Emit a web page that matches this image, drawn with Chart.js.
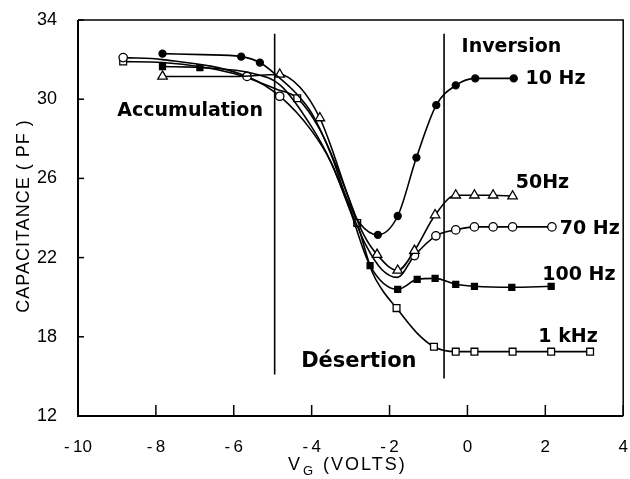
<!DOCTYPE html>
<html>
<head>
<meta charset="utf-8">
<script src="https://cdn.jsdelivr.net/npm/chart.js@4/dist/chart.umd.min.js"></script>
<style>
  html, body { margin: 0; padding: 0; background: #fff; }
  canvas { display: block; }
</style>
</head>
<body>
<canvas id="cv" width="630" height="479"></canvas>
<script>
// axis ticks
const xTicks = [-10, -8, -6, -4, -2, 0, 2, 4];
const yTicks = [14, 18, 22, 26, 30, 34];
const yTickLabels = ["12", "18", "22", "26", "30", "34"];

// 10 Hz (filled circles)
const v10 = [-7.83, -6.8, -5.81, -5.33, -4.9, -4.4, -4.0, -3.5, -3.1, -2.75, -2.3, -1.79, -1.31, -0.8, -0.3, 0.2, 1.19];
const c10 = [32.3, 32.25, 32.15, 31.85, 31.2, 30.3, 29.3, 27.2, 25.0, 23.7, 23.15, 24.1, 27.05, 29.7, 30.7, 31.05, 31.05];
const m10 = [1, 0, 1, 1, 0, 0, 0, 0, 0, 0, 1, 1, 1, 1, 1, 1, 1];

// 50 Hz (open triangles)
const v50 = [-7.83, -6.0, -4.82, -4.3, -3.79, -3.5, -3.1, -2.7, -2.32, -1.79, -1.36, -0.83, -0.3, 0.18, 0.66, 1.16];
const c50 = [31.15, 31.15, 31.25, 30.6, 29.05, 27.6, 25.3, 23.3, 22.15, 21.35, 22.35, 24.15, 25.15, 25.15, 25.15, 25.1];
const m50 = [1, 0, 1, 0, 1, 0, 0, 0, 1, 1, 1, 1, 1, 1, 1, 1];

// 70 Hz (open circles)
const v70 = [-8.84, -7.83, -5.66, -4.82, -4.0, -3.5, -3.0, -2.6, -2.2, -1.8, -1.36, -0.81, -0.3, 0.18, 0.66, 1.16, 2.17];
const c70 = [32.1, 32.0, 31.15, 30.15, 28.4, 26.8, 24.4, 22.6, 21.4, 21.0, 22.1, 23.1, 23.4, 23.55, 23.55, 23.55, 23.55];
const m70 = [1, 0, 1, 1, 0, 0, 0, 0, 0, 0, 1, 1, 1, 1, 1, 1, 1];

// 100 Hz (filled squares)
const v100 = [-7.83, -6.87, -5.5, -4.8, -4.0, -3.5, -3.0, -2.5, -1.79, -1.29, -0.83, -0.3, 0.18, 1.14, 2.15];
const c100 = [31.65, 31.6, 31.3, 30.7, 28.6, 26.8, 24.3, 21.6, 20.4, 20.9, 20.95, 20.65, 20.55, 20.5, 20.55];
const m100 = [1, 1, 0, 0, 0, 0, 0, 1, 1, 1, 1, 1, 1, 1, 1];

// 1 kHz (open squares)
const v1k = [-8.84, -7.83, -6.0, -4.9, -4.37, -3.8, -3.3, -2.83, -2.45, -2.2, -1.82, -1.3, -0.86, -0.3, 0.18, 1.16, 2.15, 3.15];
const c1k = [31.9, 31.85, 31.3, 30.5, 30.05, 28.5, 26.3, 23.75, 21.3, 20.4, 19.45, 18.2, 17.5, 17.25, 17.25, 17.25, 17.25, 17.25];
const m1k = [1, 0, 0, 0, 1, 0, 0, 1, 0, 0, 1, 0, 1, 1, 1, 1, 1, 1];

// region boundaries
const regionX = [-4.95, -0.6];
const regionTop = [33.3, 33.3];
const regionBottom = [16.1, 15.9];

// annotations (left edge, middle of text)
const notes = [
  { text: "Accumulation", x: -8.99, y: 29.4, size: 19 },
  { text: "Inversion", x: -0.15, y: 32.65, size: 19 },
  { text: "10 Hz", x: 1.49, y: 31.0, size: 19 },
  { text: "50Hz", x: 1.24, y: 25.75, size: 19 },
  { text: "70 Hz", x: 2.37, y: 23.45, size: 19 },
  { text: "100 Hz", x: 1.92, y: 21.1, size: 19 },
  { text: "1 kHz", x: 1.82, y: 18.0, size: 19 },
  { text: "Désertion", x: -4.27, y: 16.75, size: 21 }
];

const pts = (xs, ys) => xs.map((x, i) => ({ x: x, y: ys[i] }));

function serie(label, xs, ys, marks, style, fill, r) {
  return {
    label: label,
    data: pts(xs, ys),
    borderColor: "#000",
    borderWidth: 1.6,
    backgroundColor: fill,
    pointBorderColor: "#000",
    pointBackgroundColor: fill,
    pointBorderWidth: 1.3,
    pointStyle: style,
    pointRadius: ctx => marks[ctx.dataIndex] ? r : 0,
    pointHoverRadius: 0,
    cubicInterpolationMode: "monotone",
    fill: false,
    clip: false
  };
}

const decor = {
  id: "decor",
  afterDatasetsDraw(chart) {
    const c = chart.ctx, a = chart.chartArea;
    const xs = chart.scales.x, ys = chart.scales.y;
    c.save();
    c.strokeStyle = "#000";
    // frame
    c.lineWidth = 1.5;
    c.beginPath();
    c.moveTo(a.left, a.top); c.lineTo(a.right, a.top); c.lineTo(a.right, a.bottom);
    c.stroke();
    c.lineWidth = 2;
    c.beginPath();
    c.moveTo(a.left, a.top); c.lineTo(a.left, a.bottom); c.lineTo(a.right, a.bottom);
    c.stroke();
    // inner ticks
    c.lineWidth = 1.5;
    xTicks.forEach(v => {
      const px = xs.getPixelForValue(v);
      c.beginPath(); c.moveTo(px, a.bottom); c.lineTo(px, a.bottom - 11); c.stroke();
    });
    yTicks.forEach(v => {
      const py = ys.getPixelForValue(v);
      c.beginPath(); c.moveTo(a.left, py); c.lineTo(a.left + 6, py); c.stroke();
    });
    // region lines
    c.lineWidth = 1.6;
    regionX.forEach((v, i) => {
      const px = xs.getPixelForValue(v);
      c.beginPath();
      c.moveTo(px, ys.getPixelForValue(regionTop[i]));
      c.lineTo(px, ys.getPixelForValue(regionBottom[i]));
      c.stroke();
    });
    // annotations
    c.fillStyle = "#000";
    c.textAlign = "left";
    c.textBaseline = "middle";
    notes.forEach(n => {
      c.font = "bold " + n.size + "px 'DejaVu Sans'";
      c.fillText(n.text, xs.getPixelForValue(n.x), ys.getPixelForValue(n.y));
    });
    // axis titles
    c.font = "18px 'Liberation Sans'";
    c.letterSpacing = "1px";
    c.save();
    c.translate(24, 216);
    c.rotate(-Math.PI / 2);
    c.textAlign = "center";
    c.fillText("CAPACITANCE ( PF )", 0, 0);
    c.restore();
    c.letterSpacing = "2px";
    c.textAlign = "left";
    c.fillText("V", 288, 465);
    c.font = "13px 'Liberation Sans'";
    c.fillText("G", 303, 471);
    c.font = "18px 'Liberation Sans'";
    c.fillText("(VOLTS)", 323, 465);
    c.restore();
  }
};

new Chart(document.getElementById("cv"), {
  type: "line",
  data: {
    datasets: [
      serie("10 Hz", v10, c10, m10, "circle", "#000", 3.5),
      serie("50 Hz", v50, c50, m50, "triangle", "#fff", 5.5),
      serie("70 Hz", v70, c70, m70, "circle", "#fff", 4.2),
      serie("100 Hz", v100, c100, m100, "rect", "#000", 4.2),
      serie("1 kHz", v1k, c1k, m1k, "rect", "#fff", 4.8)
    ]
  },
  options: {
    responsive: false,
    devicePixelRatio: 1,
    animation: false,
    events: [],
    layout: { padding: { top: 20, right: 3, left: 0, bottom: 0 } },
    plugins: { legend: { display: false }, tooltip: { enabled: false } },
    scales: {
      x: {
        type: "linear",
        min: -10,
        max: 4,
        afterBuildTicks: s => { s.ticks = xTicks.map(v => ({ value: v })); },
        afterFit: s => { s.height = 63; s.paddingLeft = 0; s.paddingRight = 0; },
        grid: { display: false },
        border: { display: false },
        ticks: {
          padding: 13,
          color: "#000",
          font: { family: "'Liberation Sans'", size: 17 },
          callback: v => v < 0 ? "-\u2009" + Math.abs(v) : String(v)
        }
      },
      y: {
        type: "linear",
        min: 14,
        max: 34,
        afterBuildTicks: s => { s.ticks = yTicks.map(v => ({ value: v })); },
        afterFit: s => { s.width = 78; s.paddingTop = 0; s.paddingBottom = 0; },
        grid: { display: false },
        border: { display: false },
        ticks: {
          padding: 13,
          color: "#000",
          font: { family: "'Liberation Sans'", size: 18 },
          callback: v => yTickLabels[yTicks.indexOf(v)]
        }
      }
    }
  },
  plugins: [decor]
});
</script>
</body>
</html>
